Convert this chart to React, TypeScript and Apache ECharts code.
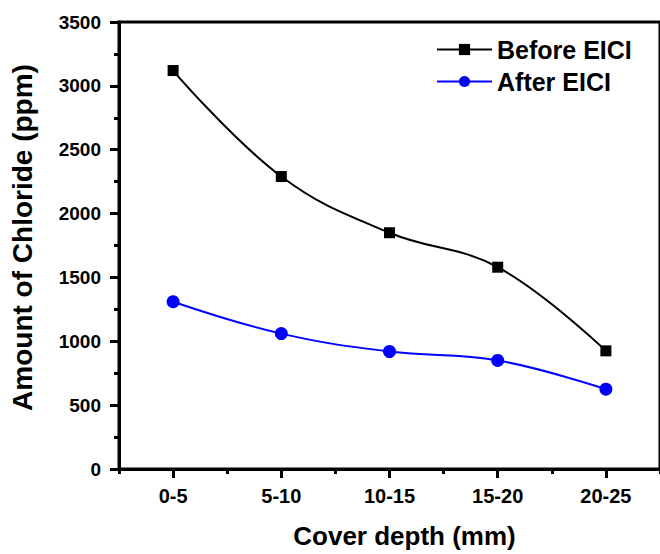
import React, { useEffect, useRef } from "react";
import * as echarts from "echarts";

const categories = ["0-5", "5-10", "10-15", "15-20", "20-25"];
const beforeEICI = [3120, 2290, 1850, 1580, 925];
const afterEICI = [1310, 1060, 920, 850, 625];

const FONT = "'Liberation Sans', Arial, Helvetica, sans-serif";

export default function App() {
  const ref = useRef<HTMLDivElement>(null);
  useEffect(() => {
    if (!ref.current) return;
    const chart = echarts.init(ref.current, undefined, { renderer: "svg" });
    chart.setOption({
      animation: false,
      backgroundColor: "#fff",
      textStyle: { fontFamily: FONT },
      grid: {
        left: 119,
        right: -4,
        top: 22,
        bottom: 78,
        show: true,
        borderColor: "#000",
        borderWidth: 3,
        backgroundColor: "transparent",
      },
      legend: {
        orient: "vertical",
        left: 431,
        top: 32,
        itemWidth: 55,
        itemHeight: 14,
        itemGap: 7,
        textStyle: {
          fontFamily: FONT,
          fontWeight: "bold",
          fontSize: 25,
          lineHeight: 25,
          color: "#000",
        },
        data: ["Before EICI", "After EICI"],
      },
      xAxis: [
        {
          type: "category",
          data: categories,
          boundaryGap: true,
          position: "bottom",
          name: "Cover depth (mm)",
          nameLocation: "middle",
          nameGap: 54,
          nameTextStyle: {
            fontFamily: FONT,
            fontWeight: "bold",
            fontSize: 26,
            color: "#000",
            padding: [0, 0, 0, 30],
          },
          axisLine: { show: true, lineStyle: { color: "#000", width: 3 } },
          axisTick: {
            show: true,
            alignWithLabel: true,
            length: 9,
            lineStyle: { color: "#000", width: 3 },
          },
          axisLabel: {
            margin: 17,
            fontFamily: FONT,
            fontWeight: "bold",
            fontSize: 20,
            color: "#000",
          },
          splitLine: { show: false },
        },
        {
          type: "category",
          data: categories,
          boundaryGap: true,
          position: "bottom",
          axisLine: { show: false },
          axisTick: {
            show: true,
            alignWithLabel: false,
            length: 5,
            lineStyle: { color: "#000", width: 3 },
          },
          axisLabel: { show: false },
          splitLine: { show: false },
        },
      ],
      yAxis: {
        type: "value",
        min: 0,
        max: 3500,
        interval: 500,
        name: "Amount of Chloride (ppm)",
        nameLocation: "middle",
        nameGap: 83,
        nameTextStyle: {
          fontFamily: FONT,
          fontWeight: "bold",
          fontSize: 28,
          color: "#000",
          padding: [0, 0, 0, 16],
        },
        axisLine: { show: true, lineStyle: { color: "#000", width: 3 } },
        axisTick: {
          show: true,
          length: 9,
          lineStyle: { color: "#000", width: 3 },
        },
        minorTick: {
          show: true,
          splitNumber: 2,
          length: 5,
          lineStyle: { color: "#000", width: 3 },
        },
        axisLabel: {
          margin: 18,
          fontFamily: FONT,
          fontWeight: "bold",
          fontSize: 19,
          color: "#000",
          formatter: (v: number) => String(v),
        },
        splitLine: { show: false },
        minorSplitLine: { show: false },
      },
      series: [
        {
          name: "Before EICI",
          type: "line",
          data: beforeEICI,
          smooth: 0.4,
          symbol: "rect",
          symbolSize: 11,
          lineStyle: { color: "#000", width: 2 },
          itemStyle: { color: "#000" },
        },
        {
          name: "After EICI",
          type: "line",
          data: afterEICI,
          smooth: 0.4,
          symbol: "circle",
          symbolSize: 13,
          lineStyle: { color: "#0000ff", width: 2 },
          itemStyle: { color: "#0000ff" },
        },
      ],
    });
    return () => chart.dispose();
  }, []);
  return (
    <div
      ref={ref}
      style={{ position: "fixed", left: 0, top: 0, width: 660, height: 554 }}
    />
  );
}
